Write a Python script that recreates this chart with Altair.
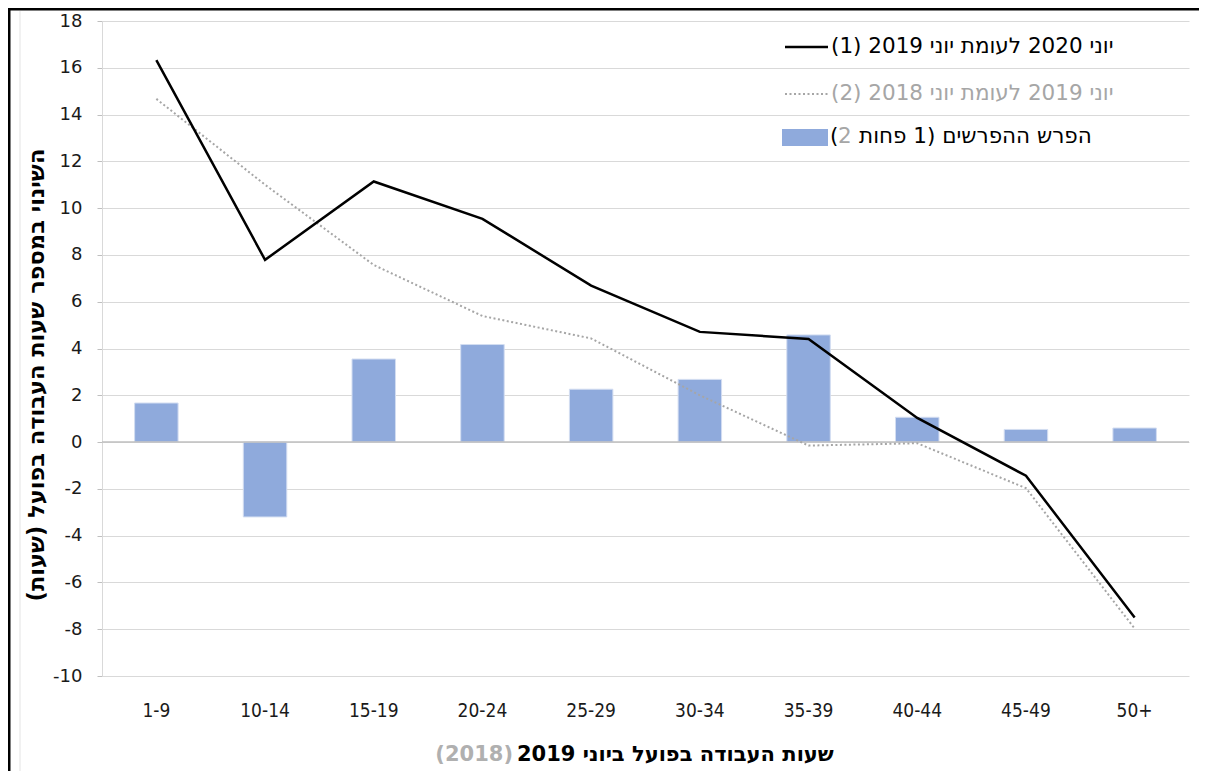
import altair as alt
import pandas as pd

RLM = "\u200f"

# ---- data ----
categories = ["1-9", "10-14", "15-19", "20-24", "25-29", "30-34", "35-39", "40-44", "45-49", "50+"]
order_idx = [0, 1, 2, 3, 4, 5, 6, 7, 8, 9]
june2020_vs_2019 = [16.33, 7.79, 11.14, 9.54, 6.69, 4.71, 4.41, 1.03, -1.44, -7.5]
june2019_vs_2018 = [14.67, 11.0, 7.57, 5.39, 4.43, 2.0, -0.15, -0.05, -1.97, -7.97]
diff_of_diffs = [1.67, -3.2, 3.55, 4.17, 2.26, 2.68, 4.58, 1.06, 0.54, 0.6]
y_ticks = list(range(-10, 19, 2))

leg1_text = RLM + "יוני 2020 לעומת יוני 2019 (1)" + RLM
leg2_text = RLM + "יוני 2019 לעומת יוני 2018 (2)" + RLM
leg3_open = "("
leg3_two = "2"
leg3_rest = RLM + "הפרש ההפרשים (1 פחות" + RLM
x_title_black = RLM + "שעות העבודה בפועל ביוני 2019" + RLM
x_title_gray = "(2018)"
y_title = RLM + "השינוי במספר שעות העבודה בפועל (שעות)" + RLM

df = pd.DataFrame({
    "cat": categories,
    "idx": order_idx,
    "v1": june2020_vs_2019,
    "v2": june2019_vs_2018,
    "diff": diff_of_diffs,
})
one = pd.DataFrame({"k": [0]})

BLUE = "#8faadc"
GRAY = "#a6a6a6"
HEB = "DejaVu Sans"

x_enc = alt.X(
    "cat:N", sort=categories,
    scale=alt.Scale(paddingInner=0, paddingOuter=0),
    axis=alt.Axis(title=None, labelAngle=0, domain=False, ticks=False, grid=False,
                  labelPadding=25, labelFont="DejaVu Sans Condensed, DejaVu Sans", labelFontSize=19,
                  labelColor="#1a1a1a"),
)
y_axis = alt.Axis(title=None, values=y_ticks, grid=True, gridColor="#d9d9d9", gridWidth=1,
                  domain=True, domainColor="#d9d9d9", tickColor="#bfbfbf", tickSize=5,
                  labelPadding=15, labelFont="DejaVu Sans", labelFontSize=18,
                  labelColor="#1a1a1a", labelExpr="toString(datum.value)")


def Y(field):
    return alt.Y(f"{field}:Q", scale=alt.Scale(domain=[-10, 18], nice=False, zero=False), axis=y_axis)


bars = alt.Chart(df).mark_bar(color=BLUE, stroke="#d3ddf1", strokeWidth=1,
                              width=alt.RelativeBandSize(0.4)).encode(x=x_enc, y=Y("diff"))
zero = alt.Chart(one).mark_rule(color="#bfbfbf", strokeWidth=1.5).encode(y=alt.datum(0))
line2 = alt.Chart(df).mark_line(color=GRAY, strokeWidth=2, strokeDash=[2, 2.5]).encode(
    x=x_enc, y=Y("v2"), order="idx:Q")
line1 = alt.Chart(df).mark_line(color="black", strokeWidth=2.5).encode(
    x=x_enc, y=Y("v1"), order="idx:Q")

# ---- manual legend ----
lg1 = alt.Chart(one).mark_rule(color="black", strokeWidth=2.5).encode(
    x=alt.value(683), x2=alt.value(726), y=alt.value(26))
lg2 = alt.Chart(one).mark_rule(color=GRAY, strokeWidth=2, strokeDash=[2, 2.5]).encode(
    x=alt.value(683), x2=alt.value(726), y=alt.value(73))
lg3 = alt.Chart(one).mark_rect(color=BLUE).encode(
    x=alt.value(680), x2=alt.value(726), y=alt.value(108), y2=alt.value(125))


def txt(s, x, y, color="black", align="left", size=21.5, weight="normal", angle=0, font=HEB):
    kw = dict(text=s, align=align, baseline="middle", font=font, fontSize=size,
              fontWeight=weight, color=color)
    if angle:
        kw["angle"] = angle
    return alt.Chart(one).mark_text(**kw).encode(x=alt.value(x), y=alt.value(y))


t1 = txt(leg1_text, 729, 26)
t2 = txt(leg2_text, 729, 73, color=GRAY)
t3a = txt(leg3_open, 728, 116)
t3b = txt(leg3_two, 736, 116, color=GRAY)
t3c = txt(leg3_rest, 757, 116)

xt_black = txt(x_title_black, 415, 734, weight="bold", size=21)
xt_gray = txt(x_title_gray, 411, 734, color="#b0b0b0", align="right", weight="bold", size=21)
yt = txt(y_title, -65, 354, align="center", weight="bold", angle=270, size=22.5)

# ---- outer frame ----
frame_left = alt.Chart(one).mark_rule(color="black", strokeWidth=3).encode(
    x=alt.value(-93), y=alt.value(-13), y2=alt.value(760))
frame_top = alt.Chart(one).mark_rule(color="black", strokeWidth=3).encode(
    y=alt.value(-12), x=alt.value(-94), x2=alt.value(1100))
inner_left = alt.Chart(one).mark_rule(color="#e3e3e3", strokeWidth=1).encode(
    x=alt.value(-82), y=alt.value(-10), y2=alt.value(760))

chart = alt.layer(
    bars, zero, line2, line1,
    lg1, lg2, lg3, t1, t2, t3a, t3b, t3c,
    xt_black, xt_gray, yt,
    frame_left, frame_top, inner_left,
).properties(
    width=1087, height=655,
    padding={"left": 94, "top": 13, "right": 10, "bottom": 95},
    autosize=alt.AutoSizeParams(type="none"),
).configure_view(strokeWidth=0)

chart.save("out.html", embed_options={"renderer": "svg", "actions": False})
